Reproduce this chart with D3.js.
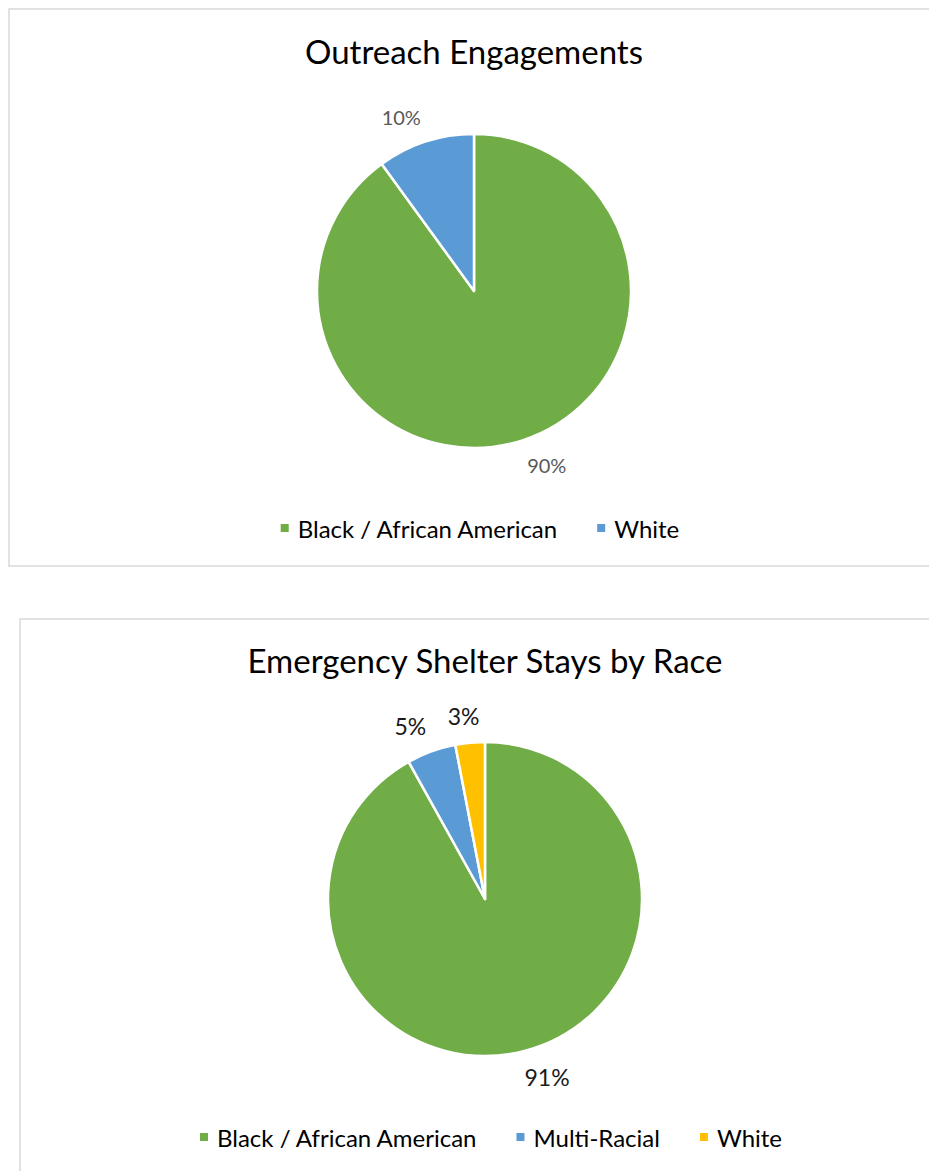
<!DOCTYPE html>
<html lang="en">
<head>
    <meta charset="UTF-8">
    <title>Outreach and Shelter by Race</title>
    <script src="https://d3js.org/d3.v7.min.js"></script>
    <style>
        body { margin: 0; background: #fff; }
        svg { display: block; }
    </style>
</head>
<body>
    <script>
        // values
        const outreachRaces = ["Black / African American", "White"];
        const outreachShares = [90, 10];
        const shelterRaces = ["Black / African American", "Multi-Racial", "White"];
        const shelterShares = [91, 5, 3];
        const outreachColors = ["#70AD47", "#5B9BD5"];
        const shelterColors = ["#70AD47", "#5B9BD5", "#FFC000"];

        const W = 929, H = 1171;
        const font = "Lato, 'Open Sans', sans-serif";

        const svg = d3.select("body").append("svg")
            .attr("width", W)
            .attr("height", H);

        // one chart panel: frame, title, pie, outside labels, legend
        function drawPanel(opt) {
            const g = svg.append("g");

            g.append("rect")
                .attr("x", opt.frame[0]).attr("y", opt.frame[1])
                .attr("width", opt.frame[2]).attr("height", opt.frame[3])
                .attr("fill", "#fff")
                .attr("stroke", "#d9d9d9")
                .attr("stroke-width", 1.5);

            g.append("text")
                .attr("x", opt.cx).attr("y", opt.titleY)
                .attr("text-anchor", "middle")
                .attr("font-family", font)
                .attr("font-size", opt.titleSize)
                .attr("fill", "#000")
                .text(opt.title);

            const data = opt.cats.map((c, i) => ({ cat: c, value: opt.values[i], color: opt.colors[i] }));
            const pie = d3.pie().sort(null).value(d => d.value);
            const arcs = pie(data);
            const arc = d3.arc().innerRadius(0).outerRadius(opt.r);

            const pg = g.append("g").attr("transform", `translate(${opt.cx},${opt.cy})`);
            pg.selectAll("path")
                .data(arcs)
                .join("path")
                .attr("d", arc)
                .attr("fill", d => d.data.color)
                .attr("stroke", "#fff")
                .attr("stroke-width", 2.5)
                .attr("stroke-linejoin", "round");

            // labels just outside the slice end, box nudged away from the pie
            const labelR = opt.r + 15;
            pg.selectAll("text.lbl")
                .data(arcs)
                .join("text")
                .attr("class", "lbl")
                .attr("font-family", font)
                .attr("font-size", opt.labelSize)
                .attr("fill", opt.labelColor)
                .attr("text-anchor", "middle")
                .attr("dominant-baseline", "central")
                .text(d => d.data.value + "%")
                .each(function(d) {
                    const a = (d.startAngle + d.endAngle) / 2;
                    const ux = Math.sin(a), uy = -Math.cos(a);
                    const bb = this.getBBox();
                    const cl = v => Math.max(-1, Math.min(1, v / 0.3));
                    const x = labelR * ux + cl(ux) * bb.width / 2;
                    const y = labelR * uy + cl(uy) * bb.height / 2.4;
                    d3.select(this).attr("x", x).attr("y", y);
                });

            // legend, centred as a row
            const lg = g.append("g");
            const items = lg.selectAll("g.item")
                .data(data)
                .join("g")
                .attr("class", "item");
            items.append("rect")
                .attr("width", 8).attr("height", 8)
                .attr("y", -4)
                .attr("fill", d => d.color);
            items.append("text")
                .attr("x", 17)
                .attr("dominant-baseline", "central")
                .attr("font-family", font)
                .attr("font-size", opt.legendSize)
                .attr("fill", "#000")
                .text(d => d.cat);
            let off = 0;
            items.each(function() {
                const w = this.getBBox().width;
                d3.select(this).attr("transform", `translate(${off},0)`);
                off += w + 40;
            });
            const total = off - 40;
            lg.attr("transform", `translate(${opt.cx + 6 - total / 2},${opt.legendY})`);
        }

        drawPanel({
            frame: [9, 9, 940, 557],
            title: "Outreach Engagements",
            titleY: 64, titleSize: 33,
            cx: 474, cy: 291, r: 157,
            cats: outreachRaces, values: outreachShares,
            colors: outreachColors,
            labelSize: 20, labelColor: "#595959",
            legendY: 528, legendSize: 24
        });

        drawPanel({
            frame: [20, 619, 940, 580],
            title: "Emergency Shelter Stays by Race",
            titleY: 673, titleSize: 33,
            cx: 485, cy: 899, r: 157,
            cats: shelterRaces, values: shelterShares,
            colors: shelterColors,
            labelSize: 23, labelColor: "#1a1a1a",
            legendY: 1137, legendSize: 24
        });
    </script>
</body>
</html>
